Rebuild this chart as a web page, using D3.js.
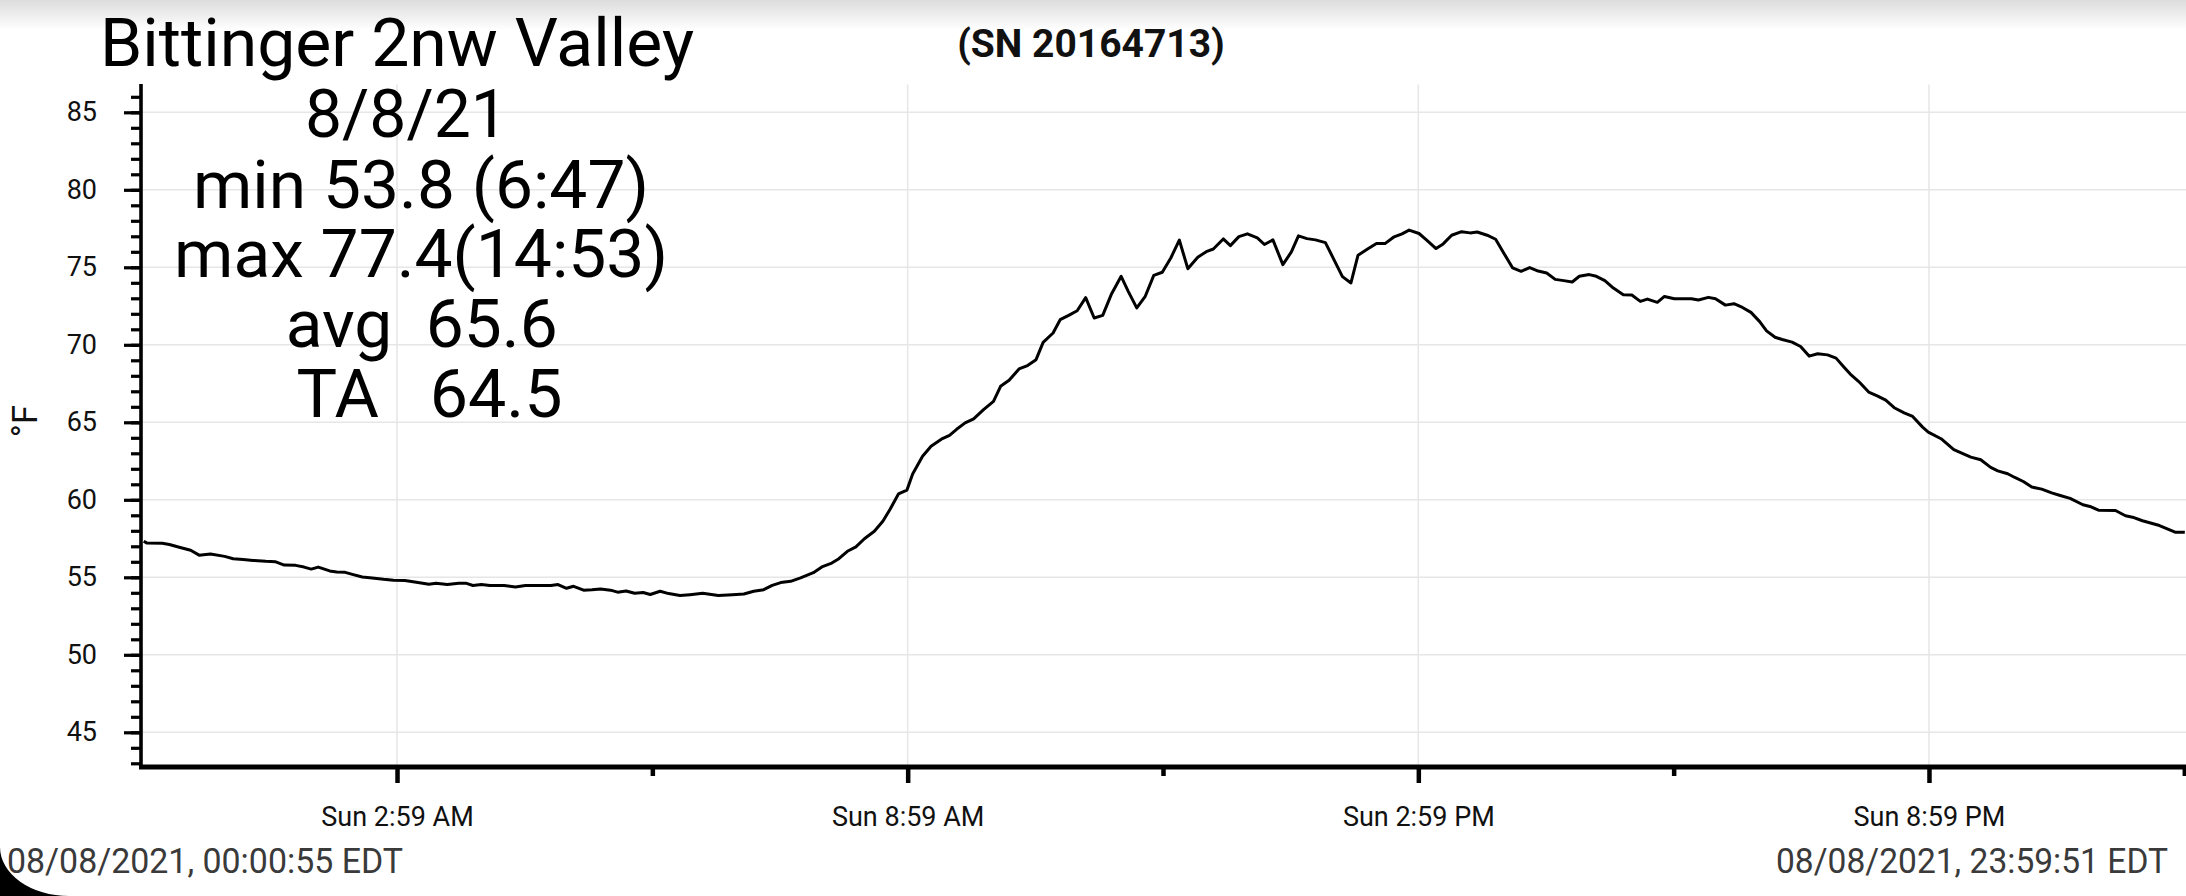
<!DOCTYPE html>
<html><head><meta charset="utf-8">
<script src="https://cdn.jsdelivr.net/npm/d3@7"></script>
<style>html,body{margin:0;padding:0;background:#fff;overflow:hidden}text{font-family:Roboto,"Noto Sans",sans-serif}</style>
</head><body>
<svg id="c" width="2186" height="896"></svg>
<script>
// ---- data (minutes since midnight, °F) ----
const timeMinutes = [0.92,3,14,19,26,34,40,48,58,64,71,78,87,94,100,108,114,119,124,132,137,143,148,155,162,170,177,185,192,202,207,215,223,228,233,239,245,255,263,270,280,288,293,299,304,311,317,323,330,335,341,347,353,358,365,371,
379,386,395,406,416,424,431,438,444,450,457,464,473,479,486,491,497,503,509,516,522,527,533,539,543,550,556,564,569,574,580,586,593,600,605,611,618,624,630,635,642,647,653,659,665,671,677,683,690,695,701,707,713,719,725,731,737,744,750,755,
762,767,773,779,786,791,797,804,810,815,821,827,834,840,846,852,857,864,870,876,882,888,893,900,905,912,917,923,930,936,941,948,954,960,966,972,978,984,990,996,1002,1008,1013,1020,1025,1031,1037,1044,1050,1056,1061,1068,1073,1080,1086,1092,1097,1104,1109,1116,1122,1128,1134,
1140,1145,1151,1156,1163,1169,1175,1181,1188,1194,1199,1204,1210,1217,1223,1229,1235,1242,1248,1255,1259,1268,1277,1283,1289,1296,1303,1308,1315,1320,1326,1332,1339,1346,1352,1359,1368,1373,1379,1391,1398,1403,1410,1422,1433,1439.85];
const tempF = [57.33,57.22,57.20,57.12,56.94,56.75,56.43,56.50,56.35,56.20,56.15,56.09,56.03,56.00,55.79,55.77,55.66,55.53,55.66,55.41,55.34,55.32,55.19,55.02,54.96,54.87,54.81,54.79,54.70,54.55,54.62,54.53,54.62,54.62,54.47,54.53,54.47,54.47,54.38,54.47,54.47,54.47,54.53,54.29,54.42,54.17,54.19,54.25,54.17,54.04,54.12,53.97,54.02,53.89,54.10,53.95,
53.82,53.88,53.97,53.82,53.88,53.92,54.10,54.20,54.48,54.66,54.74,54.96,55.30,55.67,55.92,56.20,56.68,56.96,57.49,57.97,58.61,59.37,60.38,60.63,61.67,62.81,63.45,63.95,64.16,64.55,64.96,65.22,65.82,66.35,67.32,67.71,68.44,68.66,69.04,70.16,70.76,71.62,71.90,72.20,73.04,71.73,71.90,73.24,74.42,73.45,72.38,73.13,74.48,74.68,75.60,76.76,74.91,75.65,76.01,76.18,
76.83,76.40,76.98,77.16,76.90,76.47,76.77,75.17,75.99,77.03,76.85,76.77,76.59,75.50,74.40,73.99,75.78,76.19,76.53,76.53,76.94,77.16,77.40,77.18,76.79,76.21,76.51,77.07,77.30,77.22,77.28,77.07,76.81,75.88,74.96,74.74,74.98,74.76,74.63,74.22,74.14,74.05,74.42,74.53,74.42,74.14,73.66,73.23,73.21,72.80,72.95,72.74,73.12,72.97,72.97,72.97,72.89,73.06,72.97,72.56,72.65,72.41,72.09,
71.51,70.90,70.49,70.34,70.17,69.89,69.27,69.42,69.35,69.14,68.62,68.11,67.63,66.95,66.71,66.43,65.94,65.61,65.38,64.69,64.37,63.94,63.23,62.99,62.75,62.58,62.09,61.87,61.68,61.44,61.18,60.82,60.69,60.45,60.28,60.09,59.68,59.57,59.33,59.31,58.97,58.88,58.65,58.34,57.91,57.91];

const yTicks = [45,50,55,60,65,70,75,80,85];
const yMinorTicks = d3.range(43, 87, 1);
const xTickMinutes = [179.5, 539.5, 899.5, 1259.5];
const xTickLabels = ["Sun 2:59 AM","Sun 8:59 AM","Sun 2:59 PM","Sun 8:59 PM"];
const xMinorMinutes = [359.5, 719.5, 1079.5, 1439.5];
const domainMinutes = [0.9167, 1439.85];
const yDomain = [42.8, 86.8];

const titleText = "Bittinger 2nw Valley";
const statLines = ["8/8/21","min 53.8 (6:47)","max 77.4(14:53)","avg  65.6","TA   64.5"];
const serialText = "(SN 20164713)";
const unitLabel = "°F";
const startLabel = "08/08/2021, 00:00:55 EDT";
const endLabel = "08/08/2021, 23:59:51 EDT";

// ---- drawing ----
const base = new Date(2021, 7, 8, 0, 0, 0).getTime();
const toDate = m => new Date(base + m * 60000);
const data = timeMinutes.map((m, i) => ({t: toDate(m), v: tempF[i]}));

const svg = d3.select("#c");
const defs = svg.append("defs");
const g1 = defs.append("linearGradient").attr("id","topShade").attr("x1",0).attr("y1",0).attr("x2",0).attr("y2",1);
g1.append("stop").attr("offset","0%").attr("stop-color","#dcdcdc");
g1.append("stop").attr("offset","100%").attr("stop-color","#ffffff");
svg.append("rect").attr("width",2186).attr("height",896).attr("fill","#fff");
svg.append("rect").attr("width",2186).attr("height",30).attr("fill","url(#topShade)");

const axX = 141, axBottom = 767;
const x = d3.scaleTime().domain(domainMinutes.map(toDate)).range([143.7, 2184.8]);
const y = d3.scaleLinear().domain(yDomain).range([766.4, 84.4]);

// grid
svg.append("g").selectAll("line").data(yTicks).join("line")
  .attr("x1", axX).attr("x2", 2186).attr("y1", d => y(d)).attr("y2", d => y(d))
  .attr("stroke", "#e6e6e6").attr("stroke-width", 1.5);
svg.append("g").selectAll("line").data(xTickMinutes).join("line")
  .attr("x1", d => x(toDate(d))).attr("x2", d => x(toDate(d))).attr("y1", y(yDomain[1])).attr("y2", axBottom)
  .attr("stroke", "#e6e6e6").attr("stroke-width", 1.5);

// data line
svg.append("path").datum(data)
  .attr("d", d3.line().x(d => x(d.t)).y(d => y(d.v)))
  .attr("fill","none").attr("stroke","#000").attr("stroke-width",3).attr("stroke-linejoin","round");

// y axis
const yMinor = svg.append("g").attr("transform",`translate(${axX},0)`)
  .call(d3.axisLeft(y).tickValues(yMinorTicks).tickSize(10).tickSizeOuter(0).tickFormat(""));
const yMajor = svg.append("g").attr("transform",`translate(${axX},0)`)
  .call(d3.axisLeft(y).tickValues(yTicks).tickSize(17).tickSizeOuter(0).tickPadding(27));
[yMinor, yMajor].forEach(g => { g.select(".domain").remove(); g.selectAll(".tick line").attr("stroke","#000").attr("stroke-width",3.2); });
yMajor.selectAll(".tick text").attr("font-size",27).attr("font-family","Roboto").attr("fill","#111");
svg.append("line").attr("x1",axX).attr("x2",axX).attr("y1",84).attr("y2",axBottom+2).attr("stroke","#000").attr("stroke-width",3.6);

// x axis
const xMinor = svg.append("g").attr("transform",`translate(0,${axBottom})`)
  .call(d3.axisBottom(x).tickValues(xMinorMinutes.map(toDate)).tickSize(9).tickSizeOuter(0).tickFormat(""));
const xMajor = svg.append("g").attr("transform",`translate(0,${axBottom})`)
  .call(d3.axisBottom(x).tickValues(xTickMinutes.map(toDate)).tickSize(16).tickSizeOuter(0)
    .tickFormat((d, i) => xTickLabels[i]));
[xMinor, xMajor].forEach(g => { g.select(".domain").remove(); g.selectAll(".tick line").attr("stroke","#000").attr("stroke-width",4.5); });
xMajor.selectAll(".tick text").attr("font-size",27).attr("font-family","Roboto").attr("fill","#111")
  .attr("y", 59).attr("dy", 0);
svg.append("line").attr("x1",axX-2).attr("x2",2186).attr("y1",axBottom).attr("y2",axBottom).attr("stroke","#000").attr("stroke-width",5);

// unit label
svg.append("text").attr("transform","translate(37,421) rotate(-90)").attr("text-anchor","middle")
  .attr("font-size",35).attr("fill","#111").text(unitLabel);

// title & stats
svg.append("text").attr("x",397).attr("y",66).attr("text-anchor","middle").attr("font-size",67).attr("fill","#000")
  .attr("textLength",594).attr("lengthAdjust","spacingAndGlyphs").text(titleText);
const statX = [406.5, 421, 421, 421.7, 429.5];
const statY = [137, 208, 277, 347, 417];
const statW = [203, 456, 494, 272, 266];
svg.append("g").selectAll("text").data(statLines).join("text")
  .attr("x",(d,i)=>statX[i]).attr("y",(d,i)=>statY[i]).attr("text-anchor","middle")
  .attr("font-size",67).attr("fill","#000").attr("xml:space","preserve").style("white-space","pre")
  .attr("textLength",(d,i)=>statW[i]).attr("lengthAdjust","spacingAndGlyphs").text(d=>d);

svg.append("text").attr("x",1091).attr("y",57).attr("text-anchor","middle").attr("font-size",39)
  .attr("font-weight","bold").attr("fill","#111").text(serialText);

// footer
svg.append("text").attr("x",7).attr("y",873).attr("font-size",35).attr("fill","#3a3a3a")
  .attr("textLength",396).attr("lengthAdjust","spacingAndGlyphs").text(startLabel);
svg.append("text").attr("x",2168).attr("y",873).attr("text-anchor","end").attr("font-size",35).attr("fill","#3a3a3a")
  .attr("textLength",392).attr("lengthAdjust","spacingAndGlyphs").text(endLabel);

// rounded screen corner
svg.append("path").attr("d","M0,847 A69,49 0 0 0 69,896 L0,896 Z").attr("fill","#000");
</script>
</body></html>
